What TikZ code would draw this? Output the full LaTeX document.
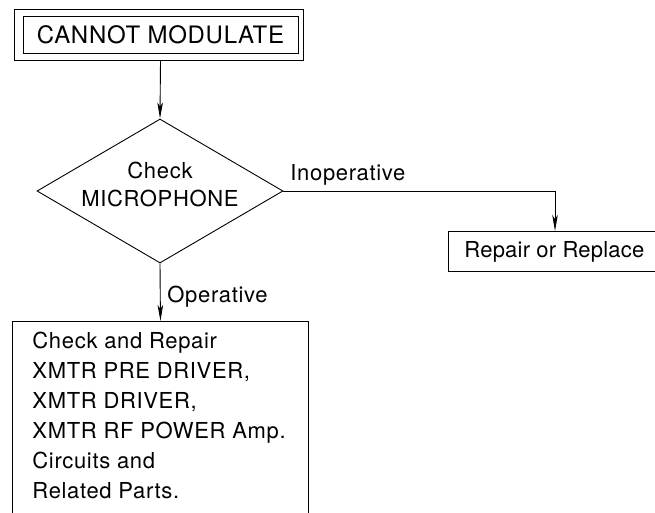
\documentclass[tikz,border=0pt]{standalone}
\usepackage{fontspec}
\setmainfont{TeX Gyre Heros}[LetterSpace=3]
\usetikzlibrary{shapes.geometric,arrows.meta,calc}
\begin{document}
\begin{tikzpicture}[x=1pt,y=-1pt,
  line width=0.9pt,
  arr/.style={-{Stealth[length=16pt,width=5.5pt,inset=4pt]}},
  boxed/.style={draw,inner sep=0pt},
  txt/.style={font=\fontsize{22}{30}\selectfont, inner sep=0pt},
  ]
\useasboundingbox (0,0) rectangle (655,512);
\clip (0,0) rectangle (655,512);
\fill[white] (0,0) rectangle (655,512);
% title with double border
\node[draw, minimum width=275pt, minimum height=37pt,
      font=\fontsize{24}{28}\selectfont, inner sep=0pt] (title) at (160.5,34.5) {CANNOT MODULATE};
\draw ($(title.north west)+(-8,-6)$) rectangle ($(title.south east)+(5,7)$);
% decision
\node[diamond, draw, minimum width=246pt, minimum height=144pt, inner sep=0pt] (chk) at (160,191) {};
\node[txt, font=\fontsize{22}{28}\selectfont, align=center] (chktxt) at (160,184) {Check\\MICROPHONE};
% repair box (runs off the right edge)
\node[boxed, anchor=north west, minimum width=240pt, minimum height=40pt] (rep) at (448,231) {};
\node[txt, anchor=west] (reptxt) at ($(rep.west)+(16,0)$) {\addfontfeature{LetterSpace=1}Repair or Replace};
% fix box (runs off the bottom edge)
\node[boxed, anchor=north west, minimum width=296pt, minimum height=240pt] (fix) at (12,321) {};
\node[txt, anchor=north west, align=left] (fixtxt) at ($(fix.north west)+(20,11)$)
  {Check and Repair\\XMTR PRE DRIVER,\\XMTR DRIVER,\\XMTR RF POWER Amp.\\Circuits and\\Related Parts.};
% connectors
\coordinate (repin) at ($(rep.north west)+(107,0)$);
\draw[arr] ($(title.south)+(0,7)$) -- (chk.north);
\draw[arr] (chk.east) -| (repin);
\draw[arr] (chk.south) -- (fix.north);
\node[txt, anchor=west] (inop) at (290,175) {Inoperative};
\node[txt, anchor=west] (op) at (167,297) {Operative};
\end{tikzpicture}
\end{document}
